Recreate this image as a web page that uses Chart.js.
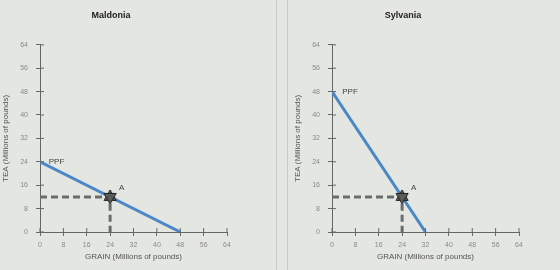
<!DOCTYPE html>
<html>
<head>
<meta charset="utf-8">
<script src="https://cdn.jsdelivr.net/npm/chart.js@4"></script>
<style>
  html, body { margin: 0; padding: 0; width: 560px; height: 270px; overflow: hidden; background: #e4e6e2; }
  .panel { position: absolute; top: 0; width: 281px; height: 270px; }
  #leftWrap { left: -5px; }
  #rightWrap { left: 287px; }
  .divider { position: absolute; top: 0; width: 1px; height: 270px; background: #c9cbc7; }
</style>
</head>
<body>
<div class="divider" style="left:276px"></div>
<div class="divider" style="left:287px"></div>
<div class="panel" id="leftWrap"><canvas id="maldoniaChart" width="281" height="270"></canvas></div>
<div class="panel" id="rightWrap"><canvas id="sylvaniaChart" width="281" height="270"></canvas></div>
<script>
// axis ticks (both axes, both panels)
const axisMin = 0;
const axisMax = 64;
const axisStep = 8;

// Maldonia
const maldoniaPpfGrain = [0, 48];
const maldoniaPpfTea = [24, 0];
// Sylvania
const sylvaniaPpfGrain = [0, 32];
const sylvaniaPpfTea = [48, 0];
// point A (same in both)
const pointA = [24, 12];

// label positions (data units)
const maldoniaPpfLabel = [3, 24];
const sylvaniaPpfLabel = [3.5, 48];
const pointALabel = [27, 15];

// six-pointed star marker
function makeStar() {
    const c = document.createElement('canvas');
    c.width = 16; c.height = 16;
    const g = c.getContext('2d');
    const cx = 8, cy = 8, r = 7;
    g.fillStyle = '#5a5c5a';
    g.strokeStyle = '#222';
    g.lineWidth = 1;
    for (let k = 0; k < 2; k++) {
        g.beginPath();
        for (let i = 0; i < 3; i++) {
            let a = -Math.PI / 2 + k * Math.PI + i * 2 * Math.PI / 3;
            let px = cx + r * Math.cos(a), py = cy + r * Math.sin(a);
            if (i === 0) g.moveTo(px, py); else g.lineTo(px, py);
        }
        g.closePath();
        g.fill();
        g.stroke();
    }
    return c;
}
const starImg = makeStar();

// texts + inward tick marks
const annotations = {
    id: 'annotations',
    afterDatasetsDraw(chart, args, opts) {
        const ctx = chart.ctx;
        const xs = chart.scales.x, ys = chart.scales.y;
        ctx.save();
        // ticks crossing into the plot
        ctx.strokeStyle = '#666';
        ctx.lineWidth = 1;
        xs.ticks.forEach((t, i) => {
            let px = xs.getPixelForTick(i);
            ctx.beginPath();
            ctx.moveTo(px, ys.bottom);
            ctx.lineTo(px, ys.bottom - 4);
            ctx.stroke();
        });
        ys.ticks.forEach((t, i) => {
            let py = ys.getPixelForTick(i);
            ctx.beginPath();
            ctx.moveTo(xs.left, py);
            ctx.lineTo(xs.left + 4, py);
            ctx.stroke();
        });
        ctx.fillStyle = '#444';
        ctx.font = '8px "Liberation Sans", Arial, sans-serif';
        ctx.textBaseline = 'middle';
        ctx.textAlign = 'left';
        ctx.fillText('PPF', xs.getPixelForValue(opts.ppf[0]), ys.getPixelForValue(opts.ppf[1]));
        ctx.fillText('A', xs.getPixelForValue(pointALabel[0]), ys.getPixelForValue(pointALabel[1]));
        ctx.restore();
    }
};

function buildChart(canvasId, title, ppfGrain, ppfTea, ppfLabel) {
    const ppfData = ppfGrain.map((g, i) => ({ x: g, y: ppfTea[i] }));
    const guideData = [
        { x: axisMin, y: pointA[1] },
        { x: pointA[0], y: pointA[1] },
        { x: pointA[0], y: axisMin }
    ];
    const tickFont = { family: '"Liberation Sans", Arial, sans-serif', size: 7 };
    const titleFont = { family: '"Liberation Sans", Arial, sans-serif', size: 8 };

    return new Chart(document.getElementById(canvasId), {
        type: 'scatter',
        data: {
            datasets: [
                {
                    label: 'guides',
                    data: guideData,
                    showLine: true,
                    borderColor: '#6b6d6b',
                    borderWidth: 3,
                    borderDash: [7, 4],
                    pointRadius: 0,
                    order: 3
                },
                {
                    label: 'PPF',
                    data: ppfData,
                    showLine: true,
                    borderColor: '#4b87c4',
                    borderWidth: 3,
                    pointRadius: 0,
                    order: 2
                },
                {
                    label: 'A',
                    data: [{ x: pointA[0], y: pointA[1] }],
                    pointStyle: starImg,
                    order: 1
                }
            ]
        },
        options: {
            responsive: false,
            animation: false,
            events: [],
            layout: { padding: { left: 0, right: 49, top: 0, bottom: 0 } },
            plugins: {
                legend: { display: false },
                tooltip: { enabled: false },
                title: {
                    display: true,
                    text: title,
                    color: '#222',
                    font: { family: '"Liberation Sans", Arial, sans-serif', size: 9, weight: 'bold' },
                    padding: { top: 10, bottom: 24 }
                },
                annotations: { ppf: ppfLabel }
            },
            scales: {
                x: {
                    type: 'linear',
                    min: axisMin,
                    max: axisMax,
                    afterFit: s => { s.height = 38; },
                    ticks: { stepSize: axisStep, color: '#8a8a8a', font: tickFont, padding: 5, maxRotation: 0 },
                    grid: { drawOnChartArea: false, tickLength: 4, color: '#666' },
                    border: { color: '#666', width: 1 },
                    title: { display: true, text: 'GRAIN (Millions of pounds)', color: '#555', font: titleFont, padding: 8 }
                },
                y: {
                    type: 'linear',
                    min: axisMin,
                    max: axisMax,
                    afterFit: s => { s.width = 45; },
                    ticks: { stepSize: axisStep, color: '#8a8a8a', font: tickFont, padding: 8 },
                    grid: { drawOnChartArea: false, tickLength: 4, color: '#666' },
                    border: { color: '#666', width: 1 },
                    title: { display: true, text: 'TEA (Millions of pounds)', color: '#555', font: titleFont, padding: { top: 6, bottom: 0 } }
                }
            }
        },
        plugins: [annotations]
    });
}

buildChart('maldoniaChart', 'Maldonia', maldoniaPpfGrain, maldoniaPpfTea, maldoniaPpfLabel);
buildChart('sylvaniaChart', 'Sylvania', sylvaniaPpfGrain, sylvaniaPpfTea, sylvaniaPpfLabel);
</script>
</body>
</html>
